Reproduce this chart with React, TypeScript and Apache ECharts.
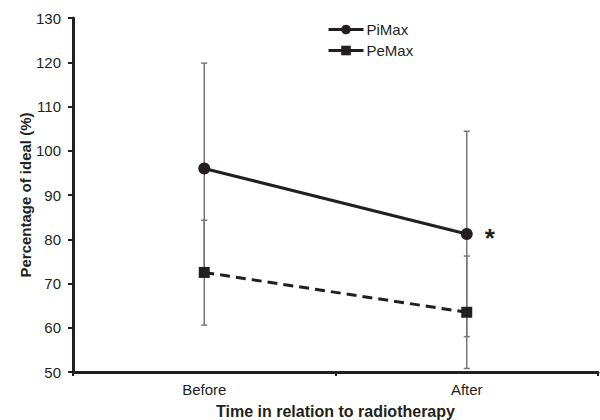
import React, { useEffect, useRef } from "react";
import * as echarts from "echarts";

const categories = ["Before", "After"];
const piMax = [96.0, 81.2];
const peMax = [72.5, 63.5];
const piMaxLow = [72.2, 58.0];
const piMaxHigh = [119.8, 104.4];
const peMaxLow = [60.6, 50.8];
const peMaxHigh = [84.3, 76.2];
const yTicks = { min: 50, max: 130, interval: 10 };

const FONT = "Liberation Sans, Arial, sans-serif";
const DARK = "#231f20";
const GRAY = "#777777";

function errorSeries(name: string, low: number[], high: number[]) {
  return {
    type: "custom",
    name,
    z: 1,
    silent: true,
    data: categories.map((_, i) => [i, low[i], high[i]]),
    renderItem: (params: any, api: any) => {
      const x = api.value(0);
      const lo = api.coord([x, api.value(1)]);
      const hi = api.coord([x, api.value(2)]);
      const hw = 3;
      const style = { stroke: GRAY, lineWidth: 1.5 };
      return {
        type: "group",
        children: [
          { type: "line", shape: { x1: lo[0], y1: lo[1], x2: hi[0], y2: hi[1] }, style },
          { type: "line", shape: { x1: lo[0] - hw, y1: lo[1], x2: lo[0] + hw, y2: lo[1] }, style },
          { type: "line", shape: { x1: hi[0] - hw, y1: hi[1], x2: hi[0] + hw, y2: hi[1] }, style },
        ],
      };
    },
  };
}

export default function App() {
  const ref = useRef<HTMLDivElement>(null);
  useEffect(() => {
    if (!ref.current) return;
    const chart = echarts.init(ref.current, null, { renderer: "svg" });
    chart.setOption({
      animation: false,
      backgroundColor: "#ffffff",
      textStyle: { fontFamily: FONT },
      grid: { left: 73, right: 2, top: 18, bottom: 48, containLabel: false, outerBoundsMode: "none" },
      legend: {
        orient: "vertical",
        left: 322,
        top: 17,
        itemWidth: 35,
        itemHeight: 12,
        itemGap: 6,
        textStyle: { fontFamily: FONT, fontSize: 15, color: DARK, padding: [0, 0, 0, -2] },
        data: [
          { name: "PiMax", lineStyle: { type: "solid", width: 3 } },
          { name: "PeMax", lineStyle: { type: "solid", width: 3 } },
        ],
      },
      xAxis: {
        type: "category",
        data: categories,
        boundaryGap: true,
        name: "Time in relation to radiotherapy",
        nameLocation: "middle",
        nameGap: 31,
        nameMoveOverlap: false,
        nameTextStyle: { fontFamily: FONT, fontSize: 16, fontWeight: "bold", color: DARK },
        axisLine: { lineStyle: { color: DARK, width: 3 } },
        axisTick: { show: true, length: 4, lineStyle: { color: DARK, width: 2 } },
        axisLabel: { fontFamily: FONT, fontSize: 15, color: DARK, margin: 10 },
        splitLine: { show: false },
      },
      yAxis: {
        type: "value",
        min: yTicks.min,
        max: yTicks.max,
        interval: yTicks.interval,
        name: "Percentage of ideal (%)",
        nameLocation: "middle",
        nameGap: 40,
        nameMoveOverlap: false,
        nameTextStyle: { fontFamily: FONT, fontSize: 15, fontWeight: "bold", color: DARK },
        axisLine: { show: true, lineStyle: { color: DARK, width: 3 } },
        axisTick: { show: true, length: 5, lineStyle: { color: DARK, width: 2 } },
        axisLabel: { fontFamily: FONT, fontSize: 15, color: DARK, margin: 12 },
        splitLine: { show: false },
      },
      series: [
        errorSeries("PiMax SD", piMaxLow, piMaxHigh),
        errorSeries("PeMax SD", peMaxLow, peMaxHigh),
        {
          type: "line",
          name: "PiMax",
          z: 3,
          data: piMax.map((v, i) =>
            i === 1
              ? {
                  value: v,
                  label: {
                    show: true,
                    formatter: "*",
                    position: "right",
                    distance: 12,
                    fontSize: 26,
                    fontWeight: "bold",
                    color: DARK,
                    fontFamily: FONT,
                    offset: [0, 4],
                  },
                }
              : v
          ),
          symbol: "circle",
          symbolSize: 12,
          itemStyle: { color: DARK },
          lineStyle: { color: DARK, width: 3, type: "solid" },
        },
        {
          type: "line",
          name: "PeMax",
          z: 3,
          data: peMax,
          symbol: "rect",
          symbolSize: 11,
          itemStyle: { color: DARK },
          lineStyle: { color: DARK, width: 3, type: [10, 6] },
        },
      ],
    });
    return () => chart.dispose();
  }, []);
  return (
    <div
      ref={ref}
      style={{ position: "fixed", left: 0, top: 0, width: 600, height: 420, background: "#fff" }}
    />
  );
}
